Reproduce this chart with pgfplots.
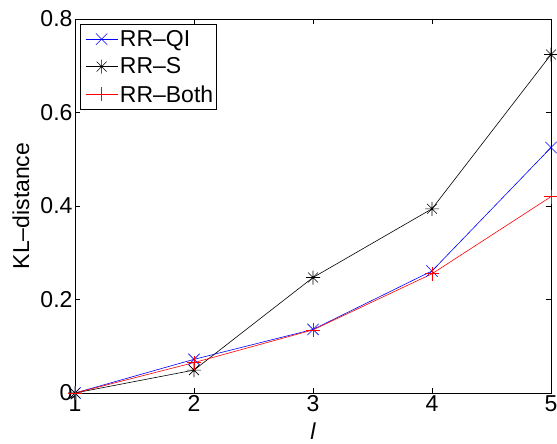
\documentclass[border=0pt]{standalone}
\usepackage{fontspec}
\setmainfont{Liberation Sans}
\usepackage{pgfplots}
\pgfplotsset{compat=1.18}
\pgfdeclareplotmark{mstar}{%
  \pgfpathmoveto{\pgfqpoint{0pt}{\pgfplotmarksize}}\pgfpathlineto{\pgfqpoint{0pt}{-\pgfplotmarksize}}%
  \pgfpathmoveto{\pgfqpoint{\pgfplotmarksize}{0pt}}\pgfpathlineto{\pgfqpoint{-\pgfplotmarksize}{0pt}}%
  \pgfpathmoveto{\pgfqpoint{.7071\pgfplotmarksize}{.7071\pgfplotmarksize}}\pgfpathlineto{\pgfqpoint{-.7071\pgfplotmarksize}{-.7071\pgfplotmarksize}}%
  \pgfpathmoveto{\pgfqpoint{-.7071\pgfplotmarksize}{.7071\pgfplotmarksize}}\pgfpathlineto{\pgfqpoint{.7071\pgfplotmarksize}{-.7071\pgfplotmarksize}}%
  \pgfusepathqstroke}
\begin{document}
\begin{tikzpicture}
\begin{axis}[
  scale only axis, width=476pt, height=374pt,
  xmin=1, xmax=5, ymin=0, ymax=0.8,
  xtick={1,2,3,4,5}, ytick={0,0.2,0.4,0.6,0.8},
  yticklabels={0,0.2,0.4,0.6,0.8},
  tick align=inside, major tick length=5pt,
  axis line style={line width=0.9pt},
  every tick/.style={line width=0.6pt, black},
  /pgf/number format/assume math mode=true,
  tick label style={font=\fontsize{23}{27}\selectfont},
  xticklabel style={yshift=1pt},
  yticklabel style={xshift=1pt},
  label style={font=\fontsize{23}{27}\selectfont},
  xlabel={\itshape l}, ylabel={KL--distance},
  xlabel style={at={(rel axis cs:0.5,0)}, anchor=center, yshift=-38pt},
  ylabel style={at={(rel axis cs:0,0.5)}, anchor=center, yshift=54pt},
  legend style={at={(rel axis cs:0,1)}, xshift=5pt, yshift=-5pt, anchor=north west,
    font=\fontsize{23}{27}\selectfont, line width=0.6pt, inner sep=1pt,
    nodes={inner ysep=5pt, inner xsep=2pt},
    row sep=0pt},
  legend cell align=left,
  legend image code/.code={\path (0pt,0pt); \draw[mark repeat=2,mark phase=2] plot coordinates {(4pt,0pt) (20pt,0pt) (36pt,0pt)};},
  every axis plot/.append style={line width=0.6pt},
]
\addplot[blue, mark=x, mark size=8pt] coordinates {(1,0) (2,0.072) (3,0.136) (4,0.261) (5,0.525)};
\addplot[black, mark=mstar, mark size=7pt] coordinates {(1,0) (2,0.049) (3,0.247) (4,0.394) (5,0.724)};
\addplot[red, mark=+, mark size=7pt] coordinates {(1,0) (2,0.065) (3,0.135) (4,0.255) (5,0.420)};
\legend{RR--QI, RR--S, RR--Both}
\end{axis}
\pgfresetboundingbox
\path[use as bounding box] ([xshift=-75pt,yshift=-50pt]current axis.south west) rectangle ([xshift=6pt,yshift=19pt]current axis.north east);
\end{tikzpicture}
\end{document}
